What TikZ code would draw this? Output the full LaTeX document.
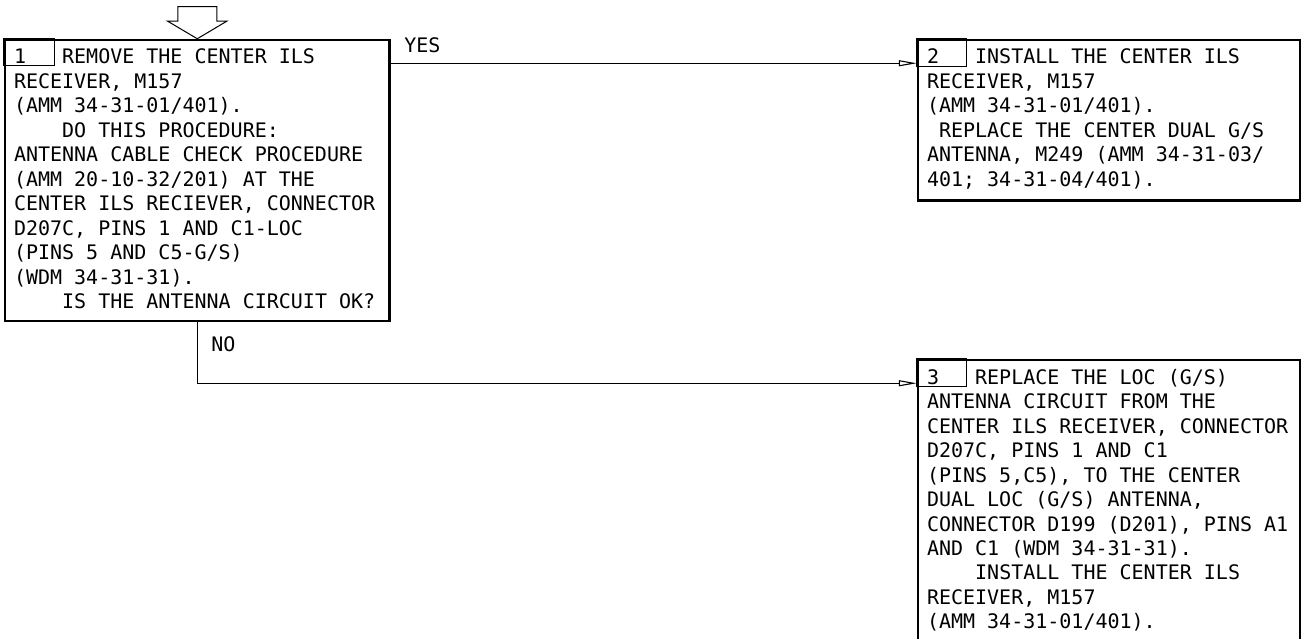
\documentclass[tikz,border=0pt]{standalone}
\usepackage{fontspec}
\newfontfamily\stepfont{DejaVu Sans Mono}
\usetikzlibrary{positioning,arrows.meta}

\newcommand{\boxfont}{\stepfont\fontsize{20}{24.5}\selectfont}
% one character cell of the mono font
\newcommand{\wsp}{\hspace{12.04pt}}
\newcommand{\topstrut}{\rule{0pt}{24pt}}
\newcommand{\botstrut}[1]{\rule[-#1pt]{0pt}{#1pt}}

\begin{document}
\begin{tikzpicture}[
    x=1pt, y=1pt,
    stepbox/.style={
        rectangle,
        draw=black,
        line width=2.5pt,
        inner xsep=9pt,
        inner ysep=0pt,
        align=left,
        anchor=north west,
        font=\boxfont
    },
    numcell/.style={draw=black, line width=1pt},
    link/.style={-{Triangle[open, length=18pt, width=6pt]}, line width=1.1pt},
    answer/.style={font=\boxfont, inner sep=0pt, anchor=base west}
]
    \useasboundingbox (0,0) rectangle (1302,-639);
    \clip (0,0) rectangle (1302,-639);

    % Steps
    \node[stepbox, text width=366.5pt] (b1) at (3.75,-38.75) {\topstrut 1\wsp\wsp\wsp REMOVE\wsp THE\wsp CENTER\wsp ILS\\
        RECEIVER,\wsp M157\\
        (AMM\wsp 34-31-01/401).\\
        \phantom{0000}DO\wsp THIS\wsp PROCEDURE:\\
        ANTENNA\wsp CABLE\wsp CHECK\wsp PROCEDURE\\
        (AMM\wsp 20-10-32/201)\wsp AT\wsp THE\\
        CENTER\wsp ILS\wsp RECIEVER,\wsp CONNECTOR\\
        D207C,\wsp PINS\wsp 1\wsp AND\wsp C1-LOC\\
        (PINS\wsp 5\wsp AND\wsp C5-G/S)\\
        (WDM\wsp 34-31-31).\\
        \phantom{0000}IS\wsp THE\wsp ANTENNA\wsp CIRCUIT\wsp OK?\botstrut{12}};
    \node[stepbox, text width=364pt, right=526pt of b1.north east, anchor=north west] (b2) {\topstrut 2\wsp\wsp\wsp INSTALL\wsp THE\wsp CENTER\wsp ILS\\
        RECEIVER,\wsp M157\\
        (AMM\wsp 34-31-01/401).\\
        \phantom{0}REPLACE\wsp THE\wsp CENTER\wsp DUAL\wsp G/S\\
        ANTENNA,\wsp M249\wsp (AMM\wsp 34-31-03/\\
        401;\wsp 34-31-04/401).\botstrut{14}};
    \node[stepbox, text width=364pt, below=320pt of b2.north west, anchor=north west] (b3) {\topstrut 3\wsp\wsp\wsp REPLACE\wsp THE\wsp LOC\wsp (G/S)\\
        ANTENNA\wsp CIRCUIT\wsp FROM\wsp THE\\
        CENTER\wsp ILS\wsp RECEIVER,\wsp CONNECTOR\\
        D207C,\wsp PINS\wsp 1\wsp AND\wsp C1\\
        (PINS\wsp 5,C5),\wsp TO\wsp THE\wsp CENTER\\
        DUAL\wsp LOC\wsp (G/S)\wsp ANTENNA,\\
        CONNECTOR\wsp D199\wsp (D201),\wsp PINS\wsp A1\\
        AND\wsp C1\wsp (WDM\wsp 34-31-31).\\
        \phantom{0000}INSTALL\wsp THE\wsp CENTER\wsp ILS\\
        RECEIVER,\wsp M157\\
        (AMM\wsp 34-31-01/401).\botstrut{16}};

    % Step numbers
    \draw[numcell] (b1.north west) rectangle ++(50.5,-27);
    \draw[numcell] (b2.north west) rectangle ++(49.5,-27.5);
    \draw[numcell] (b3.north west) rectangle ++(49.5,-27.5);

    % Entry arrow
    \draw[line width=1pt] (b1.north) -- ++(-29.5,17.5) -- ++(10,0) -- ++(0,14.5) -- ++(39,0) -- ++(0,-14.5) -- ++(10,0) -- cycle;

    % Answers
    \draw[link] ([yshift=-24.5pt]b1.north east) -- node[answer, pos=0, xshift=13pt, yshift=10.5pt] (yes) {YES} ([yshift=-24.5pt]b2.north west);
    \draw[link] (b1.south) |- ([yshift=-24.5pt]b3.north west);
    \node[answer] (no) at ([shift={(14pt,-29.5pt)}]b1.south) {NO};
\end{tikzpicture}
\end{document}
